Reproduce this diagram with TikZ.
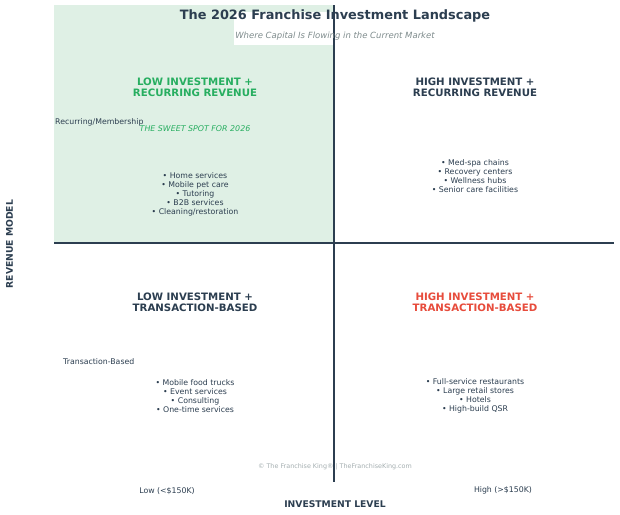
\documentclass[tikz,border=0pt]{standalone}
\usepackage{fontspec}
\setmainfont{DejaVu Sans}
\definecolor{navy}{HTML}{2C3E50}
\definecolor{sweet}{HTML}{27AE60}
\definecolor{hot}{HTML}{E74C3C}
\definecolor{paleg}{HTML}{DFF0E5}
\definecolor{subg}{HTML}{7F8C8D}
\definecolor{copyg}{HTML}{A5AFB1}
\begin{document}
\begin{tikzpicture}[x=1pt,y=-1pt,
  qtitle/.style={font=\bfseries\fontsize{10.2}{11}\selectfont, align=center, text=navy, inner sep=0},
  items/.style={font=\fontsize{7.8}{9}\selectfont, align=center, text=navy, inner sep=0},
  small/.style={font=\fontsize{7.8}{9}\selectfont, text=navy, inner sep=0},
  axislab/.style={font=\bfseries\fontsize{9.2}{10}\selectfont, text=navy, inner sep=0},
  axisline/.style={draw=navy, line width=1.2pt}]
\useasboundingbox (0,0) rectangle (620,514);
\fill[white] (0,0) rectangle (620,514);
\fill[paleg] (54,5) rectangle (334,243);
\fill[white] (234,12) rectangle (334,45);
% axes
\coordinate (vt) at (334,5);
\coordinate (vb) at (334,482);
\coordinate (hl) at (54,243);
\coordinate (hr) at (614,243);
\draw[axisline] (vt) -- (vb);
\draw[axisline] (hl) -- (hr);
% title
\node[font=\bfseries\fontsize{12.9}{14}\selectfont, text=navy, inner sep=0] (title) at (335,16) {The 2026 Franchise Investment Landscape};
\node[font=\itshape\fontsize{8.5}{9}\selectfont, text=subg, inner sep=0] (sub) at (335,36.2) {Where Capital Is Flowing in the Current Market};
% quadrant titles
\node[qtitle, text=sweet] (tl) at (195,87.3) {LOW INVESTMENT +\\RECURRING REVENUE};
\node[qtitle] (tr) at (475,87.3) {HIGH INVESTMENT +\\RECURRING REVENUE};
\node[qtitle] (bl) at (195,302.3) {LOW INVESTMENT +\\TRANSACTION-BASED};
\node[qtitle, text=hot] (br) at (475,302.3) {HIGH INVESTMENT +\\TRANSACTION-BASED};
\node[font=\itshape\fontsize{7.9}{9}\selectfont, text=sweet, inner sep=0] (sweetspot) at (195,128.8) {THE SWEET SPOT FOR 2026};
% items
\node[items] (tli) at (195,194.3) {• Home services\\• Mobile pet care\\• Tutoring\\• B2B services\\• Cleaning/restoration};
\node[items] (tri) at (475,175.8) {• Med-spa chains\\• Recovery centers\\• Wellness hubs\\• Senior care facilities};
\node[items] (bli) at (195,395.8) {• Mobile food trucks\\• Event services\\• Consulting\\• One-time services};
\node[items] (bri) at (475,395.8) {• Full-service restaurants\\• Large retail stores\\• Hotels\\• High-build QSR};
% axis tick labels
\node[small, anchor=west] (rec) at (55,122.8) {Recurring/Membership};
\node[small, anchor=west] (tra) at (63,361.8) {Transaction-Based};
\node[small] (low) at (167,490.8) {Low (<\$150K)};
\node[small] (high) at (503,490.8) {High (>\$150K)};
\node[axislab] (xlab) at (335,504.3) {INVESTMENT LEVEL};
\node[axislab, rotate=90] (ylab) at (9.5,244) {REVENUE MODEL};
\node[font=\fontsize{6.4}{7}\selectfont, text=copyg, inner sep=0] (copy) at (335,466.8) {© The Franchise King® | TheFranchiseKing.com};
\end{tikzpicture}
\end{document}
